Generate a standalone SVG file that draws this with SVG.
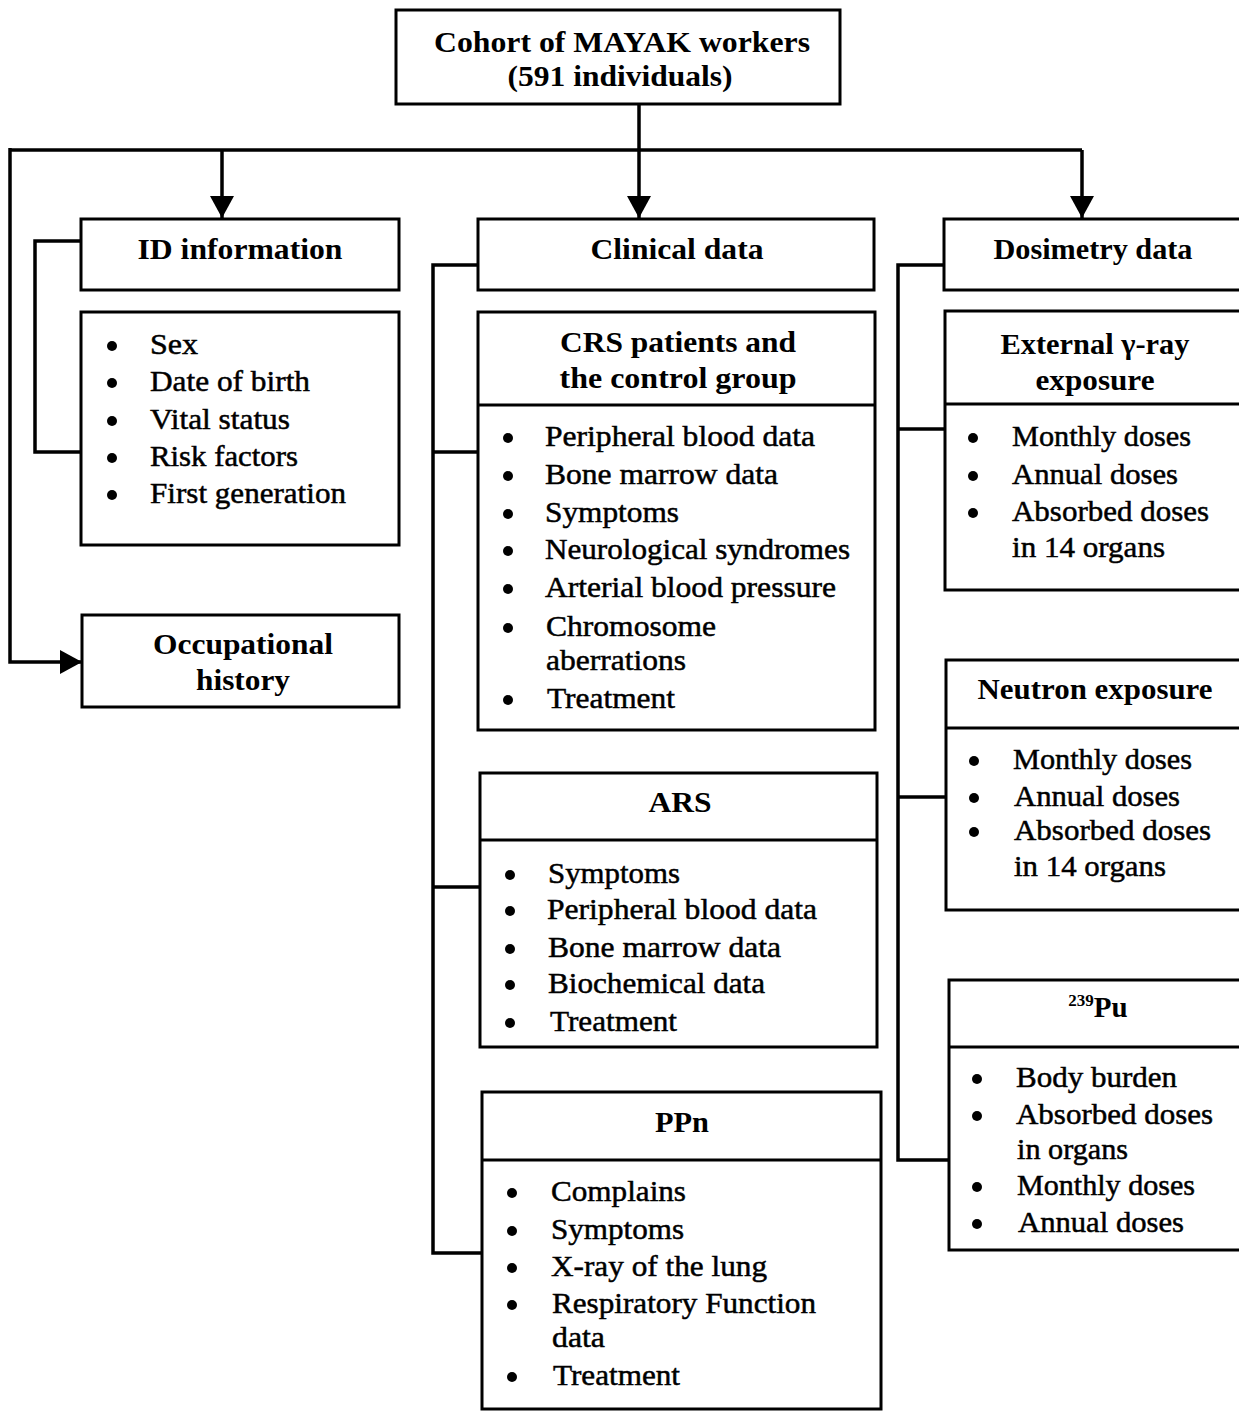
<svg xmlns="http://www.w3.org/2000/svg" width="1239" height="1411" viewBox="0 0 1239 1411">
<style>
.box{fill:#fff;stroke:#000;stroke-width:3}
.div{stroke:#000;stroke-width:3}
.conn{fill:none;stroke:#000;stroke-width:3.5}
.h{font-family:"Liberation Serif","Times New Roman",serif;font-weight:bold;font-size:29px;text-anchor:middle;fill:#000}
.t{font-family:"Liberation Serif","Times New Roman",serif;font-size:30px;fill:#000;stroke:#000;stroke-width:0.5}
.b{fill:#000}
</style>
<defs>
<marker id="ah" viewBox="0 0 22 24" refX="22" refY="12" markerWidth="22" markerHeight="24" orient="auto" markerUnits="userSpaceOnUse">
<path d="M0,0 L22,12 L0,24 Z" fill="#000"/>
</marker>
</defs>
<rect width="1239" height="1411" fill="#fff"/>

<g id="connectors">
<path class="conn" d="M639,104 V218" marker-end="url(#ah)"/>
<path class="conn" d="M10,150 H1082"/>
<path class="conn" d="M222,150 V218" marker-end="url(#ah)"/>
<path class="conn" d="M1082,150 V218" marker-end="url(#ah)"/>
<path class="conn" d="M10,148 V662 H82" marker-end="url(#ah)"/>
<path class="conn" d="M81,241 H35 V452 H81"/>
<path class="conn" d="M478,265 H433 V1253 H482"/>
<path class="conn" d="M433,452 H478"/>
<path class="conn" d="M433,887 H480"/>
<path class="conn" d="M944,265 H898 V1160 H949"/>
<path class="conn" d="M898,429 H945"/>
<path class="conn" d="M898,797 H946"/>
</g>

<g id="cohort">
<rect class="box" x="396" y="10" width="444" height="94"/>
<text class="h" x="622" y="52" textLength="376" lengthAdjust="spacingAndGlyphs">Cohort of MAYAK workers</text>
<text class="h" x="620" y="86" textLength="225" lengthAdjust="spacingAndGlyphs">(591 individuals)</text>
</g>

<g id="id-information">
<rect class="box" x="81" y="219" width="318" height="71"/>
<text class="h" x="240" y="259" textLength="205" lengthAdjust="spacingAndGlyphs">ID information</text>
</g>

<g id="id-items">
<rect class="box" x="81" y="312" width="318" height="233"/>
<circle class="b" cx="112" cy="346" r="5"/><text class="t" x="150" y="354" textLength="48" lengthAdjust="spacingAndGlyphs">Sex</text>
<circle class="b" cx="112" cy="383" r="5"/><text class="t" x="150" y="391" textLength="160" lengthAdjust="spacingAndGlyphs">Date of birth</text>
<circle class="b" cx="112" cy="421" r="5"/><text class="t" x="150" y="429" textLength="140" lengthAdjust="spacingAndGlyphs">Vital status</text>
<circle class="b" cx="112" cy="458" r="5"/><text class="t" x="150" y="466" textLength="148" lengthAdjust="spacingAndGlyphs">Risk factors</text>
<circle class="b" cx="112" cy="495" r="5"/><text class="t" x="150" y="503" textLength="196" lengthAdjust="spacingAndGlyphs">First generation</text>
</g>

<g id="occupational-history">
<rect class="box" x="82" y="615" width="317" height="92"/>
<text class="h" x="243" y="654" textLength="180" lengthAdjust="spacingAndGlyphs">Occupational</text>
<text class="h" x="243" y="690" textLength="94" lengthAdjust="spacingAndGlyphs">history</text>
</g>

<g id="clinical-data">
<rect class="box" x="478" y="219" width="396" height="71"/>
<text class="h" x="677" y="259" textLength="173" lengthAdjust="spacingAndGlyphs">Clinical data</text>
</g>

<g id="crs">
<rect class="box" x="478" y="312" width="397" height="418"/>
<line class="div" x1="478" y1="405" x2="875" y2="405"/>
<text class="h" x="678" y="352" textLength="236" lengthAdjust="spacingAndGlyphs">CRS patients and</text>
<text class="h" x="678" y="388" textLength="237" lengthAdjust="spacingAndGlyphs">the control group</text>
<circle class="b" cx="508" cy="438" r="5"/><text class="t" x="545" y="446" textLength="270" lengthAdjust="spacingAndGlyphs">Peripheral blood data</text>
<circle class="b" cx="508" cy="476" r="5"/><text class="t" x="545" y="484" textLength="233" lengthAdjust="spacingAndGlyphs">Bone marrow data</text>
<circle class="b" cx="508" cy="514" r="5"/><text class="t" x="545" y="522" textLength="134" lengthAdjust="spacingAndGlyphs">Symptoms</text>
<circle class="b" cx="508" cy="551" r="5"/><text class="t" x="545" y="559" textLength="305" lengthAdjust="spacingAndGlyphs">Neurological syndromes</text>
<circle class="b" cx="508" cy="589" r="5"/><text class="t" x="545" y="597" textLength="291" lengthAdjust="spacingAndGlyphs">Arterial blood pressure</text>
<circle class="b" cx="508" cy="628" r="5"/><text class="t" x="546" y="636" textLength="170" lengthAdjust="spacingAndGlyphs">Chromosome</text>
<text class="t" x="546" y="670" textLength="140" lengthAdjust="spacingAndGlyphs">aberrations</text>
<circle class="b" cx="508" cy="700" r="5"/><text class="t" x="547" y="708" textLength="128" lengthAdjust="spacingAndGlyphs">Treatment</text>
</g>

<g id="ars">
<rect class="box" x="480" y="773" width="397" height="274"/>
<line class="div" x1="480" y1="840" x2="877" y2="840"/>
<text class="h" x="680" y="812" textLength="63" lengthAdjust="spacingAndGlyphs">ARS</text>
<circle class="b" cx="510" cy="875" r="5"/><text class="t" x="548" y="883" textLength="132" lengthAdjust="spacingAndGlyphs">Symptoms</text>
<circle class="b" cx="510" cy="911" r="5"/><text class="t" x="547" y="919" textLength="270" lengthAdjust="spacingAndGlyphs">Peripheral blood data</text>
<circle class="b" cx="510" cy="949" r="5"/><text class="t" x="548" y="957" textLength="233" lengthAdjust="spacingAndGlyphs">Bone marrow data</text>
<circle class="b" cx="510" cy="985" r="5"/><text class="t" x="548" y="993" textLength="217" lengthAdjust="spacingAndGlyphs">Biochemical data</text>
<circle class="b" cx="510" cy="1023" r="5"/><text class="t" x="550" y="1031" textLength="127" lengthAdjust="spacingAndGlyphs">Treatment</text>
</g>

<g id="ppn">
<rect class="box" x="482" y="1092" width="399" height="317"/>
<line class="div" x1="482" y1="1160" x2="881" y2="1160"/>
<text class="h" x="682" y="1132" textLength="54" lengthAdjust="spacingAndGlyphs">PPn</text>
<circle class="b" cx="512" cy="1193" r="5"/><text class="t" x="551" y="1201" textLength="135" lengthAdjust="spacingAndGlyphs">Complains</text>
<circle class="b" cx="512" cy="1231" r="5"/><text class="t" x="551" y="1239" textLength="133" lengthAdjust="spacingAndGlyphs">Symptoms</text>
<circle class="b" cx="512" cy="1268" r="5"/><text class="t" x="551" y="1276" textLength="216" lengthAdjust="spacingAndGlyphs">X-ray of the lung</text>
<circle class="b" cx="512" cy="1305" r="5"/><text class="t" x="552" y="1313" textLength="264" lengthAdjust="spacingAndGlyphs">Respiratory Function</text>
<text class="t" x="552" y="1347" textLength="53" lengthAdjust="spacingAndGlyphs">data</text>
<circle class="b" cx="512" cy="1377" r="5"/><text class="t" x="553" y="1385" textLength="127" lengthAdjust="spacingAndGlyphs">Treatment</text>
</g>

<g id="dosimetry-data">
<rect class="box" x="944" y="219" width="300" height="71"/>
<text class="h" x="1093" y="259" textLength="199" lengthAdjust="spacingAndGlyphs">Dosimetry data</text>
</g>

<g id="external">
<rect class="box" x="945" y="311" width="300" height="279"/>
<line class="div" x1="945" y1="404" x2="1239" y2="404"/>
<text class="h" x="1095" y="354" textLength="189" lengthAdjust="spacingAndGlyphs">External γ-ray</text>
<text class="h" x="1095" y="390" textLength="119" lengthAdjust="spacingAndGlyphs">exposure</text>
<circle class="b" cx="973" cy="438" r="5"/><text class="t" x="1012" y="446" textLength="179" lengthAdjust="spacingAndGlyphs">Monthly doses</text>
<circle class="b" cx="973" cy="476" r="5"/><text class="t" x="1012" y="484" textLength="166" lengthAdjust="spacingAndGlyphs">Annual doses</text>
<circle class="b" cx="973" cy="513" r="5"/><text class="t" x="1012" y="521" textLength="197" lengthAdjust="spacingAndGlyphs">Absorbed doses</text>
<text class="t" x="1012" y="557" textLength="153" lengthAdjust="spacingAndGlyphs">in 14 organs</text>
</g>

<g id="neutron">
<rect class="box" x="946" y="660" width="300" height="250"/>
<line class="div" x1="946" y1="728" x2="1239" y2="728"/>
<text class="h" x="1095" y="699" textLength="235" lengthAdjust="spacingAndGlyphs">Neutron exposure</text>
<circle class="b" cx="974" cy="761" r="5"/><text class="t" x="1013" y="769" textLength="179" lengthAdjust="spacingAndGlyphs">Monthly doses</text>
<circle class="b" cx="974" cy="798" r="5"/><text class="t" x="1014" y="806" textLength="166" lengthAdjust="spacingAndGlyphs">Annual doses</text>
<circle class="b" cx="974" cy="832" r="5"/><text class="t" x="1014" y="840" textLength="197" lengthAdjust="spacingAndGlyphs">Absorbed doses</text>
<text class="t" x="1014" y="876" textLength="152" lengthAdjust="spacingAndGlyphs">in 14 organs</text>
</g>

<g id="pu239">
<rect class="box" x="949" y="980" width="300" height="270"/>
<line class="div" x1="949" y1="1047" x2="1239" y2="1047"/>
<text class="h" x="1098" y="1017"><tspan font-size="17" dy="-11">239</tspan><tspan dy="11">Pu</tspan></text>
<circle class="b" cx="977" cy="1079" r="5"/><text class="t" x="1016" y="1087" textLength="161" lengthAdjust="spacingAndGlyphs">Body burden</text>
<circle class="b" cx="977" cy="1116" r="5"/><text class="t" x="1016" y="1124" textLength="197" lengthAdjust="spacingAndGlyphs">Absorbed doses</text>
<text class="t" x="1017" y="1159" textLength="111" lengthAdjust="spacingAndGlyphs">in organs</text>
<circle class="b" cx="977" cy="1187" r="5"/><text class="t" x="1017" y="1195" textLength="178" lengthAdjust="spacingAndGlyphs">Monthly doses</text>
<circle class="b" cx="977" cy="1224" r="5"/><text class="t" x="1018" y="1232" textLength="166" lengthAdjust="spacingAndGlyphs">Annual doses</text>
</g>
</svg>
